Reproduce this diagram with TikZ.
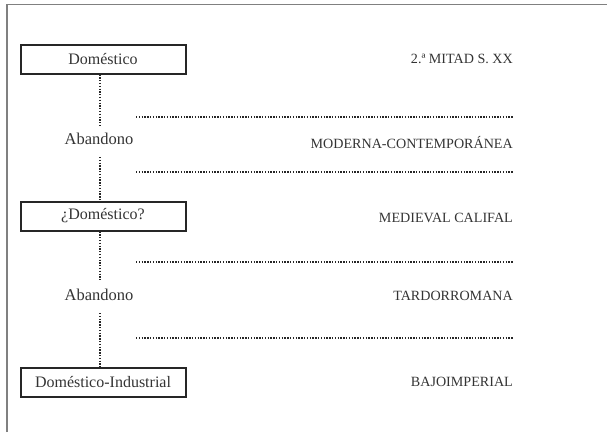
\documentclass[tikz,border=0pt]{standalone}
\usepackage{fontspec}
\setmainfont{Liberation Serif}
\begin{document}
\begin{tikzpicture}[x=1pt,y=-1pt,
  phasebox/.style={draw=black!85, line width=2pt, minimum width=165pt, minimum height=29pt, inner sep=0pt, font=\fontsize{16}{19}\selectfont, text=black!80},
  gaplabel/.style={inner sep=4pt, font=\fontsize{16.5}{19}\selectfont, text=black!80},
  period/.style={anchor=east, inner sep=0pt, font=\fontsize{14.1}{17}\selectfont, text=black!80},
  dotline/.style={draw=black!85, line width=1.6pt, dash pattern=on 1.3pt off 1.5pt},
  frame/.style={draw=black!50, line width=1.3pt}]
\useasboundingbox (0,0) rectangle (607,432);
% frame
\draw[frame] (7,432) -- (7,4.5) -- (607,4.5);
% boxes
\node[phasebox] (b1) at (103,59) {Doméstico};
\node[phasebox] (b2) at (103,216) {¿Doméstico?};
\node[phasebox] (b3) at (103,382) {Doméstico-Industrial};
\node[gaplabel] (a1) at (99,139) {Abandono};
\node[gaplabel] (a2) at (99,295) {Abandono};
% vertical dotted connectors
\draw[dotline] (b1.south -| 100,0) -- ([yshift=4pt]a1.north -| 100,0);
\draw[dotline] ([yshift=-8pt]a1.south -| 100,0) -- (b2.north -| 100,0);
\draw[dotline] (b2.south -| 100,0) -- ([yshift=4pt]a2.north -| 100,0);
\draw[dotline] ([yshift=-8pt]a2.south -| 100,0) -- (b3.north -| 100,0);
% horizontal separators
\coordinate (s1l) at (136,117); \coordinate (s1r) at (513,117);
\coordinate (s2l) at (136,172); \coordinate (s2r) at (513,172);
\coordinate (s3l) at (136,262); \coordinate (s3r) at (513,262);
\coordinate (s4l) at (136,338); \coordinate (s4r) at (513,338);
\draw[dotline] (s1l) -- (s1r);
\draw[dotline] (s2l) -- (s2r);
\draw[dotline] (s3l) -- (s3r);
\draw[dotline] (s4l) -- (s4r);
% period labels
\node[period] (p1) at (513,59) {2.ª MITAD S. XX};
\node[period] (p2) at (513,143) {MODERNA-CONTEMPORÁNEA};
\node[period] (p3) at (513,218) {MEDIEVAL CALIFAL};
\node[period] (p4) at (513,296) {TARDORROMANA};
\node[period] (p5) at (513,382) {BAJOIMPERIAL};
\end{tikzpicture}
\end{document}
